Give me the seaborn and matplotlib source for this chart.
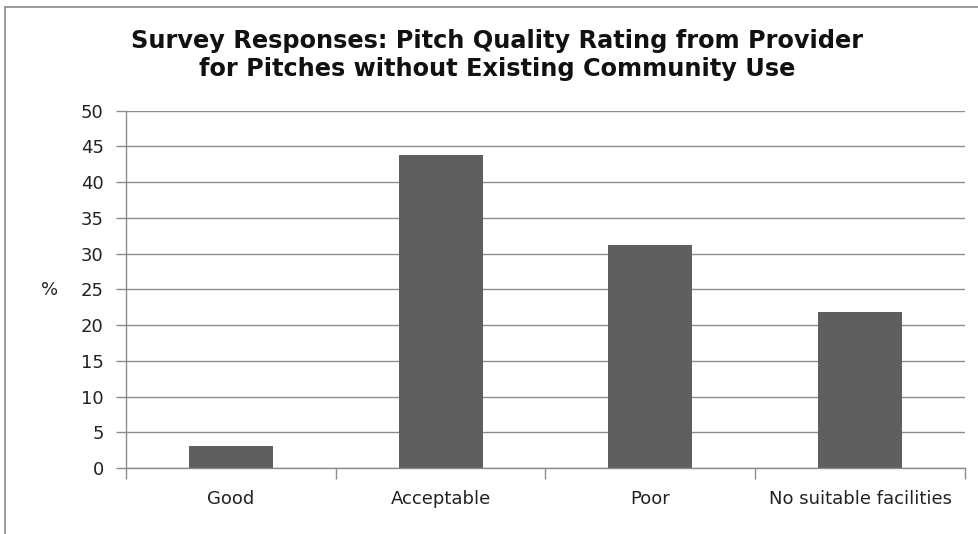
import matplotlib
matplotlib.use("Agg")
import matplotlib.pyplot as plt
from matplotlib.lines import Line2D
import seaborn as sns
import pandas as pd

# Survey data
categories = ["Good", "Acceptable", "Poor", "No suitable facilities"]
percent = [3.125, 43.75, 31.25, 21.875]
y_ticks = [0, 5, 10, 15, 20, 25, 30, 35, 40, 45, 50]

title = "Survey Responses: Pitch Quality Rating from Provider\nfor Pitches without Existing Community Use"

sns.set_theme(style="white")
plt.rcParams["font.family"] = ["DejaVu Sans"]

df = pd.DataFrame({"category": categories, "percent": percent})

fig = plt.figure(figsize=(9.79, 5.34), dpi=100)
ax = fig.add_axes([126 / 979, 1 - 468 / 534, (965 - 126) / 979, (468 - 110.7) / 534])

grid_c = "#8c8c8c"
text_c = "#222222"
label_size = 13

ax.set_axisbelow(True)
ax.yaxis.grid(True, color=grid_c, linewidth=1.0)

sns.barplot(data=df, x="category", y="percent", color="#5f5f5f", width=0.4,
            saturation=1, ax=ax, edgecolor="none")

ax.set_xlim(-0.5, len(categories) - 0.5)
ax.set_ylim(0, 50)
ax.set_yticks(y_ticks)
ax.set_yticklabels([str(v) for v in y_ticks], fontsize=label_size, color=text_c)
ax.set_xticks(range(len(categories)))
ax.set_xticklabels(categories, fontsize=label_size, color=text_c)
ax.set_xticks([i - 0.5 for i in range(len(categories) + 1)], minor=True)
ax.tick_params(axis="x", which="major", length=0, pad=16)
ax.tick_params(axis="x", which="minor", length=8, color=grid_c, width=1.0, direction="out", bottom=True)
ax.tick_params(axis="y", which="major", length=7, color=grid_c, width=1.0, direction="out", left=True, pad=9)
ax.set_xlabel("")
ax.set_ylabel("")
fig.text(50 / 979, 1 - 290 / 534, "%", ha="center", va="center", fontsize=label_size, color=text_c)

for side in ["top", "right"]:
    ax.spines[side].set_visible(False)
for side in ["left", "bottom"]:
    ax.spines[side].set_color(grid_c)
    ax.spines[side].set_linewidth(1.0)

fig.text(497 / 979, 1 - 55 / 534, title, ha="center", va="center", fontsize=17.3,
         fontweight="bold", color="#111111", linespacing=1.2)

# Chart frame on the left and top edges
frame_c = "#8a8a8a"
fig.add_artist(Line2D([5 / 979, 5 / 979], [0, 1 - 7 / 534], color=frame_c, lw=1.2,
                      transform=fig.transFigure))
fig.add_artist(Line2D([5 / 979, 1], [1 - 7 / 534, 1 - 7 / 534], color=frame_c, lw=1.2,
                      transform=fig.transFigure))

fig.savefig("out.png", dpi=100)
